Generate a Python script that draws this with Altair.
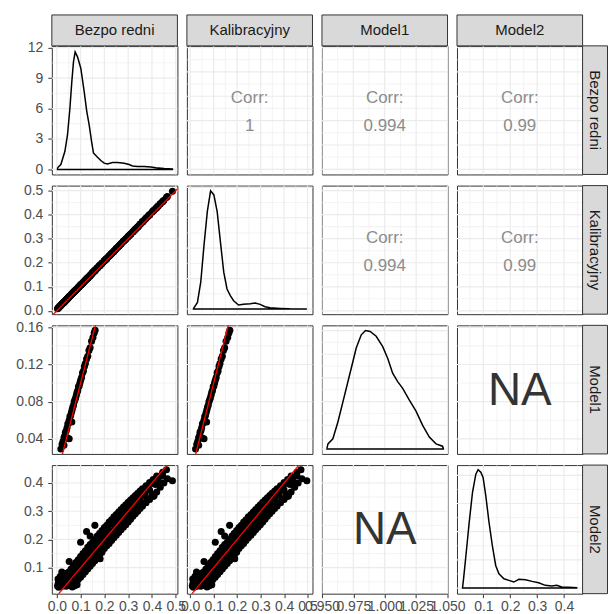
import altair as alt
import pandas as pd

FONT = "Liberation Sans"
W, H = 126, 129
STRIP_H, STRIP_W = 31, 25
GRID = "#EBEBEB"

var_names = ["Bezpo redni", "Kalibracyjny", "Model1", "Model2"]
var_keys = ["b", "k", "m1", "m2"]

# ---- observations that have Model1 ----
g1_bezpo = [0.017, 0.022, 0.026, 0.030, 0.033, 0.036, 0.040, 0.043, 0.046, 0.049,
            0.052, 0.055, 0.058, 0.061, 0.064, 0.067, 0.070, 0.073, 0.076, 0.079,
            0.082, 0.085, 0.088, 0.091, 0.094, 0.097, 0.100, 0.104, 0.108, 0.112,
            0.116, 0.120, 0.125, 0.130, 0.135, 0.140, 0.146, 0.152, 0.157, 0.161,
            0.052, 0.044, 0.030, 0.063]
g1_kalib = [0.023, 0.028, 0.032, 0.036, 0.039, 0.042, 0.046, 0.049, 0.052, 0.055,
            0.059, 0.062, 0.065, 0.068, 0.071, 0.074, 0.077, 0.080, 0.083, 0.086,
            0.089, 0.092, 0.095, 0.098, 0.101, 0.104, 0.107, 0.111, 0.115, 0.119,
            0.123, 0.127, 0.132, 0.137, 0.142, 0.147, 0.153, 0.160, 0.165, 0.169,
            0.059, 0.050, 0.036, 0.070]
g1_model1 = [0.029, 0.034, 0.037, 0.041, 0.043, 0.047, 0.049, 0.052, 0.056, 0.057,
             0.060, 0.064, 0.065, 0.068, 0.071, 0.074, 0.076, 0.080, 0.082, 0.084,
             0.087, 0.090, 0.092, 0.096, 0.097, 0.100, 0.103, 0.106, 0.111, 0.113,
             0.118, 0.121, 0.126, 0.129, 0.135, 0.138, 0.145, 0.149, 0.154, 0.157,
             0.040, 0.041, 0.033, 0.058]

# ---- observations that have Model2 ----
g2_bezpo = [0.003, 0.006, 0.008, 0.010, 0.012, 0.015, 0.018, 0.020, 0.021, 0.024,
            0.027, 0.030, 0.033, 0.036, 0.039, 0.042, 0.045, 0.048, 0.050, 0.052,
            0.055, 0.057, 0.060, 0.062, 0.065, 0.068, 0.070, 0.073, 0.076, 0.078,
            0.081, 0.084, 0.087, 0.090, 0.093, 0.096, 0.100, 0.100, 0.103, 0.106,
            0.109, 0.112, 0.115, 0.118, 0.121, 0.125, 0.124, 0.128, 0.131, 0.134,
            0.137, 0.140, 0.140, 0.143, 0.146, 0.150, 0.153, 0.156, 0.160, 0.160,
            0.164, 0.168, 0.172, 0.176, 0.180, 0.182, 0.186, 0.190, 0.195, 0.200,
            0.205, 0.210, 0.215, 0.220, 0.226, 0.232, 0.238, 0.245, 0.252, 0.258,
            0.265, 0.272, 0.280, 0.288, 0.295, 0.302, 0.310, 0.318, 0.326, 0.335,
            0.343, 0.352, 0.360, 0.370, 0.380, 0.390, 0.400, 0.409, 0.415, 0.427,
            0.435, 0.445, 0.461, 0.486,
            # upper side of the band
            0.030, 0.040, 0.050, 0.060, 0.070, 0.080, 0.090, 0.100, 0.110, 0.120,
            0.130, 0.140, 0.150, 0.160, 0.170, 0.180, 0.190, 0.200, 0.210, 0.220,
            0.230, 0.240, 0.250, 0.260, 0.270, 0.280, 0.290, 0.300, 0.310, 0.320,
            0.330, 0.340, 0.350, 0.360, 0.375, 0.390, 0.405, 0.420,
            # lower side of the band
            0.060, 0.070, 0.080, 0.090, 0.100, 0.110, 0.120, 0.130, 0.140, 0.150,
            0.160, 0.170, 0.180, 0.190, 0.200, 0.210, 0.220, 0.230, 0.240, 0.250,
            0.260, 0.270, 0.280, 0.290, 0.300, 0.310, 0.320, 0.330, 0.340, 0.350,
            0.360, 0.375, 0.390, 0.405, 0.420, 0.435, 0.450, 0.465,
            # middle of the band
            0.105, 0.125, 0.145, 0.165, 0.185, 0.205, 0.225, 0.245, 0.265, 0.285,
            0.305, 0.325, 0.345, 0.365, 0.385, 0.405, 0.425, 0.445,
            # lower-left cluster
            0.005, 0.010, 0.015, 0.025, 0.035, 0.045, 0.055, 0.065, 0.075, 0.085]
g2_kalib = [0.009, 0.012, 0.014, 0.016, 0.018, 0.021, 0.024, 0.026, 0.027, 0.030,
            0.033, 0.036, 0.039, 0.042, 0.045, 0.048, 0.051, 0.054, 0.057, 0.059,
            0.062, 0.064, 0.067, 0.069, 0.072, 0.075, 0.077, 0.080, 0.083, 0.085,
            0.088, 0.091, 0.094, 0.097, 0.100, 0.103, 0.107, 0.107, 0.110, 0.113,
            0.116, 0.119, 0.122, 0.125, 0.128, 0.132, 0.131, 0.135, 0.138, 0.141,
            0.144, 0.147, 0.147, 0.150, 0.153, 0.158, 0.161, 0.164, 0.168, 0.168,
            0.172, 0.176, 0.180, 0.184, 0.188, 0.190, 0.194, 0.198, 0.203, 0.208,
            0.213, 0.218, 0.223, 0.228, 0.234, 0.240, 0.246, 0.253, 0.261, 0.267,
            0.274, 0.281, 0.289, 0.297, 0.304, 0.311, 0.319, 0.327, 0.335, 0.344,
            0.352, 0.362, 0.370, 0.380, 0.390, 0.400, 0.410, 0.419, 0.425, 0.437,
            0.445, 0.455, 0.472, 0.497,
            0.036, 0.046, 0.057, 0.067, 0.077, 0.087, 0.097, 0.107, 0.117, 0.127,
            0.137, 0.147, 0.158, 0.168, 0.178, 0.188, 0.198, 0.208, 0.218, 0.228,
            0.238, 0.248, 0.259, 0.269, 0.279, 0.289, 0.299, 0.309, 0.319, 0.329,
            0.339, 0.349, 0.360, 0.370, 0.385, 0.400, 0.415, 0.430,
            0.067, 0.077, 0.087, 0.097, 0.107, 0.117, 0.127, 0.137, 0.147, 0.158,
            0.168, 0.178, 0.188, 0.198, 0.208, 0.218, 0.228, 0.238, 0.248, 0.259,
            0.269, 0.279, 0.289, 0.299, 0.309, 0.319, 0.329, 0.339, 0.349, 0.360,
            0.370, 0.385, 0.400, 0.415, 0.430, 0.445, 0.460, 0.476,
            0.112, 0.132, 0.152, 0.173, 0.193, 0.213, 0.233, 0.253, 0.274, 0.294,
            0.314, 0.334, 0.354, 0.375, 0.395, 0.415, 0.435, 0.455,
            0.011, 0.016, 0.021, 0.031, 0.041, 0.051, 0.062, 0.072, 0.082, 0.092]
g2_model2 = [0.035, 0.045, 0.031, 0.055, 0.040, 0.070, 0.033, 0.050, 0.085, 0.062,
             0.036, 0.075, 0.045, 0.058, 0.034, 0.080, 0.052, 0.066, 0.040, 0.122,
             0.072, 0.048, 0.090, 0.058, 0.078, 0.050, 0.100, 0.068, 0.085, 0.060,
             0.105, 0.075, 0.092, 0.070, 0.112, 0.085, 0.190, 0.098, 0.080, 0.125,
             0.100, 0.090, 0.135, 0.110, 0.100, 0.228, 0.150, 0.120, 0.110, 0.160,
             0.130, 0.212, 0.118, 0.170, 0.140, 0.128, 0.180, 0.150, 0.250, 0.140,
             0.190, 0.160, 0.150, 0.200, 0.175, 0.132, 0.210, 0.180, 0.195, 0.225,
             0.190, 0.215, 0.240, 0.205, 0.230, 0.255, 0.225, 0.245, 0.270, 0.240,
             0.262, 0.285, 0.265, 0.300, 0.280, 0.320, 0.295, 0.325, 0.305, 0.340,
             0.318, 0.350, 0.330, 0.365, 0.345, 0.375, 0.360, 0.355, 0.395, 0.420,
             0.400, 0.425, 0.447, 0.408,
             0.060, 0.072, 0.085, 0.095, 0.108, 0.118, 0.128, 0.140, 0.150, 0.160,
             0.172, 0.182, 0.190, 0.200, 0.212, 0.222, 0.232, 0.242, 0.250, 0.262,
             0.270, 0.280, 0.288, 0.297, 0.306, 0.315, 0.323, 0.332, 0.340, 0.348,
             0.356, 0.364, 0.372, 0.380, 0.390, 0.402, 0.412, 0.425,
             0.036, 0.042, 0.050, 0.058, 0.066, 0.076, 0.086, 0.095, 0.105, 0.115,
             0.125, 0.135, 0.145, 0.155, 0.168, 0.178, 0.186, 0.196, 0.206, 0.215,
             0.225, 0.234, 0.243, 0.252, 0.262, 0.272, 0.282, 0.291, 0.300, 0.310,
             0.318, 0.330, 0.342, 0.352, 0.368, 0.385, 0.400, 0.415,
             0.110, 0.128, 0.148, 0.168, 0.190, 0.208, 0.228, 0.250, 0.270, 0.288,
             0.308, 0.326, 0.346, 0.362, 0.382, 0.398, 0.410, 0.438,
             0.060, 0.040, 0.048, 0.045, 0.068, 0.038, 0.060, 0.032, 0.036, 0.040]

# ---- diagonal density curves ----
dens_bezpo_x = [0.003, 0.017, 0.034, 0.045, 0.055, 0.063, 0.070, 0.077, 0.087, 0.101,
                0.115, 0.126, 0.136, 0.146, 0.154, 0.171, 0.185, 0.199, 0.213, 0.234,
                0.255, 0.283, 0.304, 0.318, 0.339, 0.367, 0.395, 0.416, 0.451, 0.486]
dens_bezpo_y = [0.16, 0.49, 1.79, 3.42, 6.03, 8.64, 10.6, 11.58, 11.09, 9.94,
                7.66, 5.7, 4.4, 2.77, 1.63, 1.2, 0.88, 0.62, 0.55, 0.68,
                0.68, 0.62, 0.49, 0.35, 0.29, 0.29, 0.25, 0.16, 0.1, 0.06]
dens_kalib_x = [0.014, 0.031, 0.045, 0.059, 0.073, 0.087, 0.101, 0.115, 0.129, 0.143,
                0.157, 0.171, 0.185, 0.206, 0.227, 0.256, 0.277, 0.298, 0.319, 0.340,
                0.382, 0.424, 0.494]
dens_kalib_y = [0.05, 0.66, 2.65, 6.3, 9.6, 11.65, 11.25, 9.6, 6.6, 3.64,
                1.98, 1.33, 0.83, 0.4, 0.47, 0.53, 0.6, 0.47, 0.23, 0.13,
                0.07, 0.03, 0.01]
dens_model1_x = [0.954, 0.9548, 0.9587, 0.9627, 0.9667, 0.972, 0.9773, 0.9813, 0.9847, 0.9884,
                 0.9932, 0.9984, 1.0024, 1.0063, 1.0103, 1.0143, 1.0196, 1.0249, 1.0302, 1.0355,
                 1.0408, 1.046, 1.0466]
dens_model1_y = [0.15, 1.06, 2.13, 5.68, 9.94, 15.6, 21.3, 24.1, 25.0, 24.8,
                 23.8, 21.6, 19.1, 16.0, 14.2, 12.8, 10.3, 7.96, 4.98, 2.49,
                 1.06, 0.57, 0.15]
dens_model2_x = [0.0227, 0.0264, 0.0352, 0.0474, 0.0597, 0.072, 0.0806, 0.0905, 0.099, 0.109,
                 0.121, 0.1333, 0.1459, 0.158, 0.1765, 0.195, 0.2134, 0.2318, 0.2565, 0.2809,
                 0.3056, 0.3302, 0.3546, 0.3731, 0.3915, 0.4162, 0.4469]
dens_model2_y = [0.05, 0.82, 2.89, 5.84, 8.5, 10.1, 10.5, 10.27, 9.82, 8.2,
                 5.84, 3.78, 2.0, 1.27, 0.82, 0.68, 0.53, 0.77, 0.74, 0.59,
                 0.47, 0.24, 0.18, 0.24, 0.09, 0.06, 0.02]
dens_x = [dens_bezpo_x, dens_kalib_x, dens_model1_x, dens_model2_x]
dens_y = [dens_bezpo_y, dens_kalib_y, dens_model1_y, dens_model2_y]

# ---- correlation texts (upper panels) ----
corr_text = {(0, 1): "1", (0, 2): "0.994", (0, 3): "0.99",
             (1, 2): "0.994", (1, 3): "0.99"}
na_panels = [(2, 3), (3, 2)]

# identity reference line
ref_line = [-1.0, 2.0]

# ---- scales / breaks ----
x_domains = [[-0.021, 0.507], [-0.014, 0.521], [0.95, 1.05], [0.002, 0.469]]
y_domains = [[-0.021, 0.507], [-0.014, 0.521], [0.0237, 0.1622], [0.008, 0.4635]]
diag_y_domains = [[-0.49, 12.17], [-0.5, 12.17], [-1.06, 26.1], [-0.5, 10.91]]

x_major = [[0.0, 0.1, 0.2, 0.3, 0.4, 0.5], [0.0, 0.1, 0.2, 0.3, 0.4, 0.5],
           [0.95, 0.975, 1.0, 1.025, 1.05], [0.1, 0.2, 0.3, 0.4]]
x_minor = [[0.05, 0.15, 0.25, 0.35, 0.45], [0.05, 0.15, 0.25, 0.35, 0.45],
           [0.9625, 0.9875, 1.0125, 1.0375], [0.05, 0.15, 0.25, 0.35, 0.45]]
x_formats = [".1f", ".1f", ".3f", ".1f"]
y_major = [[0.0, 0.1, 0.2, 0.3, 0.4, 0.5], [0.0, 0.1, 0.2, 0.3, 0.4, 0.5],
           [0.04, 0.08, 0.12, 0.16], [0.1, 0.2, 0.3, 0.4]]
y_minor = [[0.05, 0.15, 0.25, 0.35, 0.45], [0.05, 0.15, 0.25, 0.35, 0.45],
           [0.02, 0.06, 0.10, 0.14, 0.18], [0.05, 0.15, 0.25, 0.35, 0.45]]
y_formats = [".1f", ".1f", ".2f", ".1f"]
diag_major = [[0, 3, 6, 9, 12], [0, 3, 6, 9, 12], [0, 5, 10, 15, 20, 25], [0, 2.5, 5, 7.5, 10]]
diag_minor = [[1.5, 4.5, 7.5, 10.5], [1.5, 4.5, 7.5, 10.5],
              [2.5, 7.5, 12.5, 17.5, 22.5], [1.25, 3.75, 6.25, 8.75]]

# ---- observation table ----
obs = pd.concat([
    pd.DataFrame({"b": g1_bezpo, "k": g1_kalib, "m1": g1_model1}),
    pd.DataFrame({"b": g2_bezpo, "k": g2_kalib, "m2": g2_model2}),
], ignore_index=True)


def in_dom(vals, dom):
    return [v for v in vals if dom[0] <= v <= dom[1]]


def panel(i, j):
    xd = x_domains[j]
    if i == j:
        yd, ymaj, ymin = diag_y_domains[i], diag_major[i], diag_minor[i]
    else:
        yd, ymaj, ymin = y_domains[i], y_major[i], y_minor[i]
    xs = alt.Scale(domain=xd, nice=False, zero=False)
    ys = alt.Scale(domain=yd, nice=False, zero=False)
    if i == 3:
        xaxis = alt.Axis(values=x_major[j], format=x_formats[j], title=None,
                         labelOverlap=False, labelFlush=False)
    else:
        xaxis = None
    if j == 0:
        if i == 0:
            yvals, yfmt = diag_major[0], "d"
        else:
            yvals, yfmt = y_major[i], y_formats[i]
        yaxis = alt.Axis(values=yvals, format=yfmt, title=None, labelOverlap=False,
                         labelFlush=False, minExtent=39, maxExtent=39)
    else:
        yaxis = None

    def X():
        return alt.X("x:Q", scale=xs, axis=xaxis)

    def Y():
        return alt.Y("y:Q", scale=ys, axis=yaxis)

    layers = [
        alt.Chart(pd.DataFrame({"a": [0]})).mark_rect(opacity=0).encode(
            x=alt.value(0), x2=alt.value(W), y=alt.value(-10), y2=alt.value(H + 10)),
        alt.Chart(pd.DataFrame({"x": in_dom(x_minor[j], xd)})).mark_rule(
            color=GRID, strokeWidth=0.6).encode(x=X()),
        alt.Chart(pd.DataFrame({"y": in_dom(ymin, yd)})).mark_rule(
            color=GRID, strokeWidth=0.6).encode(y=Y()),
        alt.Chart(pd.DataFrame({"x": in_dom(x_major[j], xd)})).mark_rule(
            color=GRID, strokeWidth=1.2).encode(x=X()),
        alt.Chart(pd.DataFrame({"y": in_dom(ymaj, yd)})).mark_rule(
            color=GRID, strokeWidth=1.2).encode(y=Y()),
    ]
    xc = (xd[0] + xd[1]) / 2
    yc = (yd[0] + yd[1]) / 2
    if i == j:
        dx, dy = dens_x[i], dens_y[i]
        px = dx + [dx[-1], dx[0], dx[0]]
        py = dy + [0.0, 0.0, dy[0]]
        df = pd.DataFrame({"x": px, "y": py, "o": list(range(len(px)))})
        layers.append(alt.Chart(df).mark_line(color="black", strokeWidth=1.5, clip=True).encode(
            x=X(), y=Y(), order="o:Q"))
    elif (i, j) in corr_text:
        df = pd.DataFrame({"x": [xc], "y": [yc]})
        layers.append(alt.Chart(df).mark_text(text="Corr:", font=FONT, fontSize=17, color="#8C8C8C",
                                              dy=-12).encode(x=X(), y=Y()))
        layers.append(alt.Chart(df).mark_text(text=corr_text[(i, j)], font=FONT, fontSize=17,
                                              color="#8C8C8C", dy=16).encode(x=X(), y=Y()))
    elif (i, j) in na_panels:
        df = pd.DataFrame({"x": [xc], "y": [yc]})
        layers.append(alt.Chart(df).mark_text(text="NA", font=FONT, fontSize=46, color="#333333",
                                              dy=1).encode(x=X(), y=Y()))
    else:
        sub = obs[[var_keys[j], var_keys[i]]].dropna()
        df = pd.DataFrame({"x": sub[var_keys[j]].values, "y": sub[var_keys[i]].values})
        layers.append(alt.Chart(df).mark_circle(color="black", opacity=1, size=50, clip=True).encode(
            x=X(), y=Y()))
        layers.append(alt.Chart(pd.DataFrame({"x": ref_line, "y": ref_line})).mark_line(
            color="#FF0000", strokeWidth=1.3, clip=True).encode(x=X(), y=Y()))
    one = pd.DataFrame({"a": [0]})
    if i == 0:
        layers.append(alt.Chart(one).mark_rect(fill="#D9D9D9", stroke="#333333", strokeWidth=1).encode(
            x=alt.value(0), x2=alt.value(W), y=alt.value(-STRIP_H), y2=alt.value(0)))
        layers.append(alt.Chart(one).mark_text(text=var_names[j], font=FONT, fontSize=15,
                                               color="#1A1A1A").encode(
            x=alt.value(W / 2), y=alt.value(-STRIP_H / 2)))
    if j == 3:
        layers.append(alt.Chart(one).mark_rect(fill="#D9D9D9", stroke="#333333", strokeWidth=1).encode(
            x=alt.value(W), x2=alt.value(W + STRIP_W), y=alt.value(0), y2=alt.value(H)))
        layers.append(alt.Chart(one).mark_text(text=var_names[i], font=FONT, fontSize=15, angle=90,
                                               color="#1A1A1A").encode(
            x=alt.value(W + STRIP_W / 2), y=alt.value(H / 2)))
    return alt.layer(*layers).properties(width=W, height=H)


rows = []
for i in range(4):
    rows.append(alt.hconcat(*[panel(i, j) for j in range(4)], spacing=9.5, bounds="flush"))

chart = alt.vconcat(*rows, spacing=-10.8).properties(
    padding={"left": 12, "top": 13, "right": 0, "bottom": 2},
    background="white",
).configure_view(
    stroke="#333333", strokeWidth=1
).configure_axis(
    labelFont=FONT, labelFontSize=14, labelColor="#4D4D4D", tickColor="#333333",
    tickSize=4, tickWidth=1, domain=False, grid=False, labelPadding=2
).configure_axisY(labelPadding=5)

chart.save("out.html", embed_options={"renderer": "svg", "actions": False})
